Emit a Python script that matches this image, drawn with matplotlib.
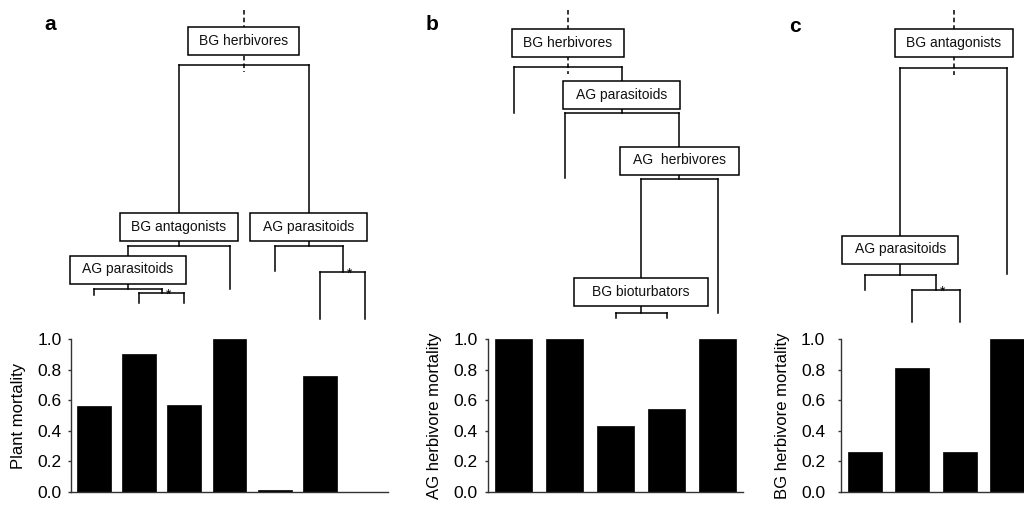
import matplotlib.pyplot as plt
from matplotlib.patches import Rectangle
from matplotlib.ticker import FormatStrFormatter

plt.rcParams['font.family'] = ['Liberation Sans', 'DejaVu Sans']

W, H = 1024, 505

# bar values (one per leaf of the tree, left to right)
plant_mortality = [0.56, 0.90, 0.57, 1.0, 0.01, 0.76, 0.0]
ag_herbivore_mortality = [1.0, 1.0, 0.43, 0.54, 1.0]
bg_herbivore_mortality = [0.26, 0.81, 0.26, 1.0]

y_ticks = [0.0, 0.2, 0.4, 0.6, 0.8, 1.0]

# tree nodes: (label, split row, box row, box width px, star, left, right)
# leaves: (bar index, end row)   -- rows are pixels from the top of the figure
tree_a = ("BG herbivores", 65, 41, 111, False,
          ("BG antagonists", 246, 226.5, 118, False,
           ("AG parasitoids", 289, 269.5, 116, False,
            (0, 295),
            ("", 293, 0, 0, True, (1, 303), (2, 303))),
           (3, 289)),
          ("AG parasitoids", 246, 226.5, 117, False,
           (4, 271),
           ("", 272, 0, 0, True, (5, 319), (6, 319))))

tree_b = ("BG herbivores", 67, 43, 112, False,
          (0, 113),
          ("AG parasitoids", 113, 94.5, 117, False,
           (1, 178),
           ("AG  herbivores", 179, 160.5, 119, False,
            ("BG bioturbators", 313, 292, 134, False, (2, 318), (3, 318)),
            (4, 313))))

tree_c = ("BG antagonists", 68, 43, 118, False,
          ("AG parasitoids", 275, 249.5, 116, False,
           (0, 290),
           ("", 290, 0, 0, True, (1, 322), (2, 322))),
          (3, 274))


def draw_tree(ax, node, ppu, parent_y=None):
    if len(node) == 2:
        i, y_end = node
        ax.plot([i, i], [parent_y, y_end], color='black', lw=1.1, clip_on=False)
        return i
    label, y, box_y, box_w, star, left, right = node
    xl = draw_tree(ax, left, ppu, y)
    xr = draw_tree(ax, right, ppu, y)
    x = (xl + xr) / 2
    ax.plot([xl, xr], [y, y], color='black', lw=1.1, clip_on=False)
    if parent_y is None:
        # dashed stem above the root
        ax.plot([x, x], [10, y + 7], color='black', lw=1.1, ls=(0, (3, 2)),
                clip_on=False, zorder=1)
    else:
        ax.plot([x, x], [parent_y, y], color='black', lw=1.1, clip_on=False)
    if label:
        w = box_w / ppu
        ax.add_patch(Rectangle((x - w / 2, box_y - 14), w, 28, facecolor='white',
                               edgecolor='black', lw=1.1, zorder=3, clip_on=False))
        ax.text(x, box_y, label, ha='center', va='center', fontsize=10,
                color='#111111', zorder=4, clip_on=False)
    if star:
        ax.annotate('*', xy=(x, y), xytext=(3, -4), textcoords='offset points',
                    ha='left', va='baseline', fontsize=10, annotation_clip=False)
    return x


fig = plt.figure(figsize=(W / 100, H / 100), dpi=100)

panels = [
    (plant_mortality, "Plant mortality", 71, 388, 0.75, 4.3, tree_a, "a", (50, 25)),
    (ag_herbivore_mortality, "AG herbivore mortality", 488, 743, 0.73, 5.0, tree_b, "b", (432, 25)),
    (bg_herbivore_mortality, "BG herbivore mortality", 841, 1031, 0.72, 9.0, tree_c, "c", (795, 27)),
]

top_px, bottom_px = 339, 492

for values, ylabel, lpx, rpx, bw, tpad, tree, letter, lxy in panels:
    n = len(values)
    ax = fig.add_axes([lpx / W, 1 - bottom_px / H, (rpx - lpx) / W, (bottom_px - top_px) / H])
    ax.bar(range(n), values, width=bw, color='black', edgecolor='black', linewidth=0.5)
    ax.set_xlim(-0.5, n - 0.5)
    ax.set_ylim(0, 1.0)
    ax.set_yticks(y_ticks)
    ax.yaxis.set_major_formatter(FormatStrFormatter('%.1f'))
    ax.set_xticks([])
    for s in ['top', 'right']:
        ax.spines[s].set_visible(False)
    for s in ['left', 'bottom']:
        ax.spines[s].set_color('#333333')
        ax.spines[s].set_linewidth(1.0)
    ax.tick_params(axis='y', direction='out', length=2.5, width=1.0, color='#333333',
                   labelsize=12.5, pad=tpad)
    ax.set_ylabel(ylabel, fontsize=12, labelpad=8)

    # tree above the bars, sharing the bar x scale; y in pixel rows
    tax = fig.add_axes([lpx / W, 1 - top_px / H, (rpx - lpx) / W, top_px / H], sharex=ax)
    tax.set_ylim(top_px, 0)
    tax.axis('off')
    ppu = (rpx - lpx) / n
    draw_tree(tax, tree, ppu)

    fig.text(lxy[0] / W, 1 - lxy[1] / H, letter, ha='center', va='center',
             fontsize=15, fontweight='bold')

fig.savefig('out.png', dpi=100)
